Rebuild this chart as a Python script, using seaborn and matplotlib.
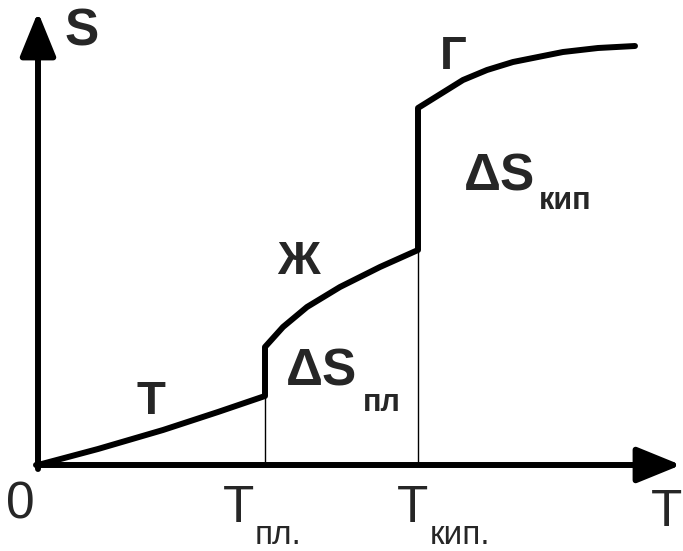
import numpy as np
import matplotlib.pyplot as plt
import pandas as pd
import seaborn as sns

# S(T) sketch: solid -> melting jump -> liquid -> boiling jump -> gas
solid_T = [0, 60, 125, 180, 227]
solid_S = [0, 16, 35, 53, 69]
liquid_T = [227, 245, 269, 302, 342, 380]
liquid_S = [118, 138, 158, 178, 198, 215]
gas_T = [380, 425, 449, 475, 525, 560, 597]
gas_S = [357, 385, 395, 403, 413, 417, 419]
T_melt = 227
T_boil = 380

sns.set_style('white')
plt.rcParams['font.family'] = ['Liberation Sans', 'DejaVu Sans']

curve = pd.DataFrame({'T': solid_T + liquid_T + gas_T,
                      'S': solid_S + liquid_S + gas_S})

fig = plt.figure(figsize=(6.83, 5.51), dpi=100)
ax = fig.add_axes([0, 0, 1, 1])
ax.set_xlim(-38, 645)
ax.set_ylim(-86, 465)
ax.axis('off')

sns.lineplot(data=curve, x='T', y='S', sort=False, estimator=None,
             color='black', lw=4.3, ax=ax)

# thin drop lines
ax.vlines([T_melt, T_boil], 3, [solid_S[-1], liquid_S[-1]], color='black', lw=1.0)

# axes arrows
arr = dict(arrowstyle='-|>,head_length=2.7,head_width=1.1', color='black',
           lw=4.3, shrinkA=0, shrinkB=0, mutation_scale=10)
ax.annotate('', xy=(0, 453), xytext=(0, -4), arrowprops=arr)
ax.annotate('', xy=(643, 0), xytext=(-2, 0), arrowprops=arr)

big = 37
ax.text(44, 433, 'S', fontsize=big, fontweight='bold', ha='center', va='center')
ax.text(-18, -40, '0', fontsize=big, ha='center', va='center')
ax.text(629, -47, 'T', fontsize=big, ha='center', va='center')

ax.text(200, -44, 'T', fontsize=big, ha='center', va='center')
ax.text(240, -70, 'пл.', fontsize=24, ha='center', va='center')
ax.text(374, -44, 'T', fontsize=big, ha='center', va='center')
ax.text(422, -70, 'кип.', fontsize=24, ha='center', va='center')

ax.text(113, 63, 'Т', fontsize=34, fontweight='bold', ha='center', va='center')
ax.text(260, 203, 'Ж', fontsize=34, fontweight='bold', ha='center', va='center')
ax.text(415, 408, 'Г', fontsize=34, fontweight='bold', ha='center', va='center')

ax.text(283, 93, 'ΔS', fontsize=big, fontweight='bold', ha='center', va='center')
ax.text(344, 62, 'пл', fontsize=22, fontweight='bold', ha='center', va='center')
ax.text(462, 288, 'ΔS', fontsize=big, fontweight='bold', ha='center', va='center')
ax.text(527, 264, 'кип', fontsize=22, fontweight='bold', ha='center', va='center')

plt.savefig('out.png', dpi=100)
